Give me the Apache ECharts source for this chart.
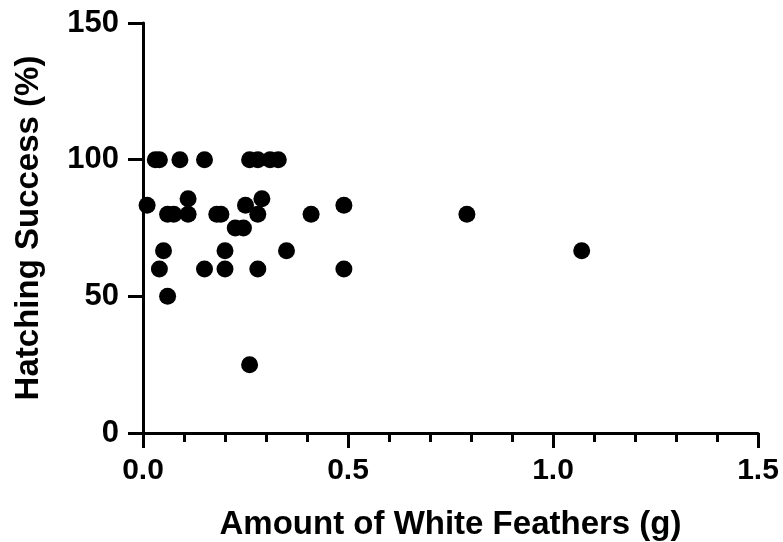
<!DOCTYPE html>
<html>
<head>
<meta charset="utf-8">
<script src="https://cdn.jsdelivr.net/npm/echarts@6/dist/echarts.min.js"></script>
<style>
  html, body { margin: 0; padding: 0; background: #fff; }
  #main { width: 783px; height: 542px; }
</style>
</head>
<body>
<div id="main"></div>
<script>
// amount of white feathers (g)
var feathers = [
    0.03, 0.04, 0.09, 0.15, 0.26, 0.28, 0.31, 0.33,
    0.11, 0.29,
    0.01, 0.25, 0.49,
    0.06, 0.075, 0.11, 0.18, 0.19, 0.28, 0.41, 0.79,
    0.225, 0.245,
    0.05, 0.20, 0.35, 1.07,
    0.04, 0.15, 0.20, 0.28, 0.49,
    0.06,
    0.26
];
// hatching success (%)
var success = [
    100, 100, 100, 100, 100, 100, 100, 100,
    85.7, 85.7,
    83.3, 83.3, 83.3,
    80, 80, 80, 80, 80, 80, 80, 80,
    75, 75,
    66.7, 66.7, 66.7, 66.7,
    60, 60, 60, 60, 60,
    50,
    25
];

var points = [];
for (var i = 0; i < feathers.length; i++) {
    points.push([feathers[i], success[i]]);
}

var font = 'Liberation Sans, Arial, sans-serif';
var chart = echarts.init(document.getElementById('main'));
chart.setOption({
    animation: false,
    grid: { left: 143, right: 25, top: 23, bottom: 109, outerBoundsMode: 'none', containLabel: false },
    xAxis: {
        type: 'value',
        min: 0, max: 1.5, interval: 0.5,
        name: 'Amount of White Feathers (g)',
        nameLocation: 'middle',
        nameGap: 75,
        nameTextStyle: { fontSize: 33, fontWeight: 'bold', color: '#000', fontFamily: font },
        axisLine: { lineStyle: { color: '#000', width: 3 } },
        axisTick: { length: 15, lineStyle: { color: '#000', width: 3 } },
        minorTick: { show: true, splitNumber: 5, length: 9, lineStyle: { color: '#000', width: 3 } },
        axisLabel: {
            fontSize: 30, fontWeight: 'bold', color: '#000', fontFamily: font, margin: 23,
            formatter: function (v) { return v.toFixed(1); }
        },
        splitLine: { show: false }
    },
    yAxis: {
        type: 'value',
        min: 0, max: 150, interval: 50,
        name: 'Hatching Success (%)',
        nameLocation: 'middle',
        nameGap: 98,
        nameTextStyle: { fontSize: 33, fontWeight: 'bold', color: '#000', fontFamily: font },
        axisLine: { lineStyle: { color: '#000', width: 3 } },
        axisTick: { length: 15, lineStyle: { color: '#000', width: 3 } },
        axisLabel: { fontSize: 31, fontWeight: 'bold', color: '#000', fontFamily: font, margin: 24 },
        splitLine: { show: false }
    },
    series: [
        {
            type: 'scatter',
            data: points,
            symbolSize: 17,
            itemStyle: { color: '#000', opacity: 1 }
        }
    ]
});
</script>
</body>
</html>
